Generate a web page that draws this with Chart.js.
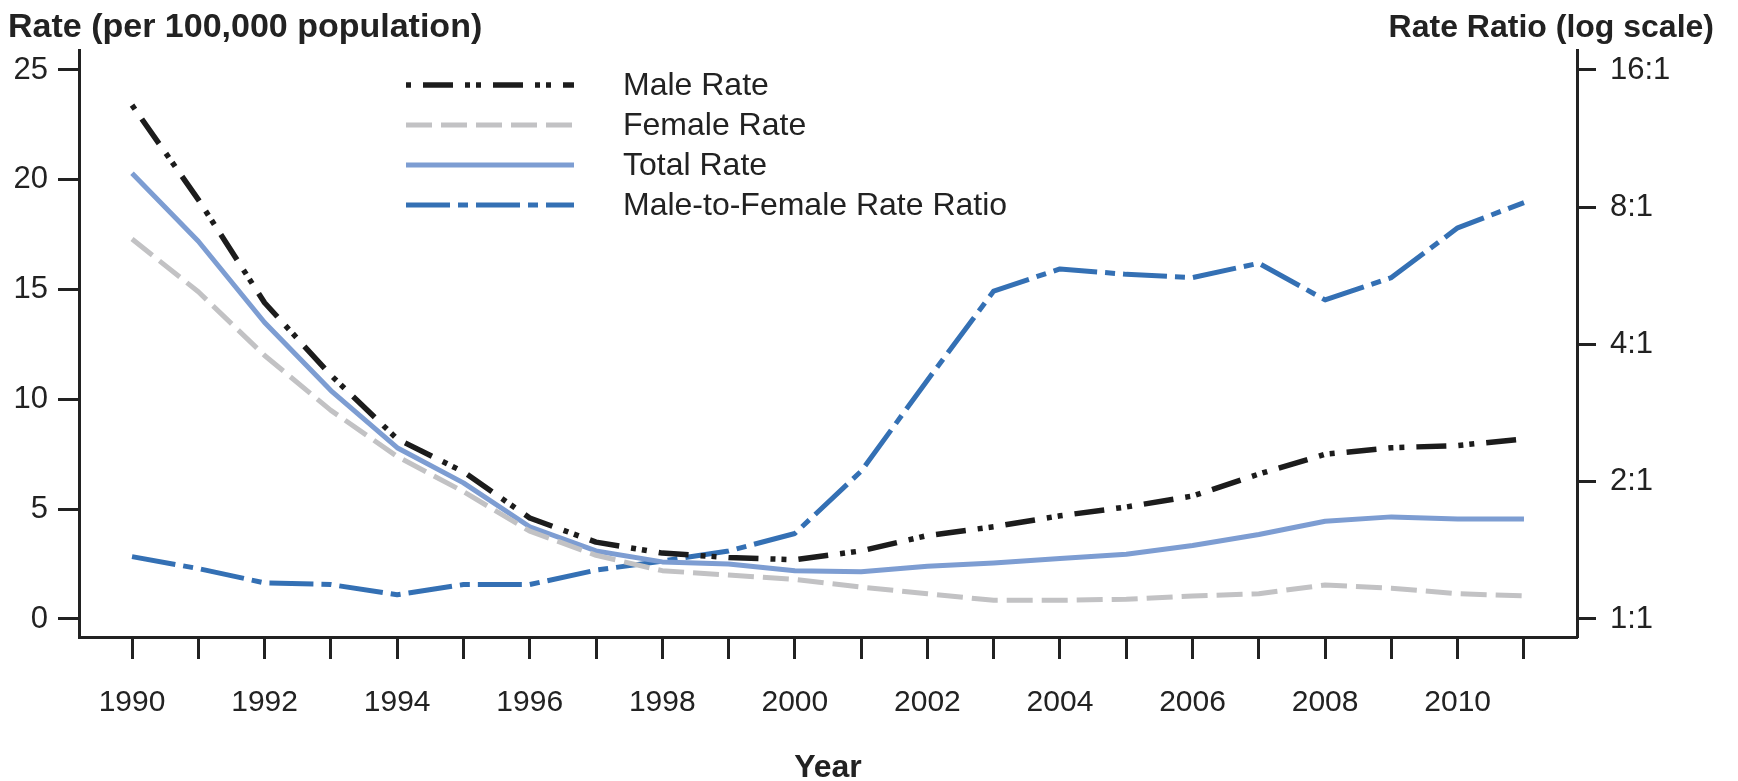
<!DOCTYPE html>
<html>
<head>
<meta charset="utf-8">
<title>Rate and Male-to-Female Rate Ratio by Year</title>
<script src="https://cdn.jsdelivr.net/npm/chart.js@4.4.1/dist/chart.umd.min.js"></script>
<style>
  html, body { margin: 0; padding: 0; background: #fff; }
  #wrap { width: 1738px; height: 781px; }
</style>
</head>
<body>
<div id="wrap"><canvas id="rateChart" width="1738" height="781"></canvas></div>
<script>
// Data
const years = [1990, 1991, 1992, 1993, 1994, 1995, 1996, 1997, 1998, 1999, 2000,
               2001, 2002, 2003, 2004, 2005, 2006, 2007, 2008, 2009, 2010, 2011];
const maleRate   = [23.4, 19.1, 14.4, 11.1, 8.2, 6.7, 4.6, 3.5, 3.0, 2.8, 2.7,
                    3.1, 3.8, 4.2, 4.7, 5.1, 5.6, 6.6, 7.5, 7.8, 7.9, 8.2];
const femaleRate = [17.3, 14.9, 12.0, 9.5, 7.4, 5.8, 4.0, 2.9, 2.2, 2.0, 1.8,
                    1.45, 1.15, 0.85, 0.85, 0.9, 1.05, 1.15, 1.55, 1.4, 1.15, 1.05];
const totalRate  = [20.3, 17.2, 13.5, 10.4, 7.8, 6.2, 4.2, 3.1, 2.6, 2.5, 2.2,
                    2.15, 2.4, 2.55, 2.75, 2.95, 3.35, 3.85, 4.45, 4.65, 4.55, 4.55];
const rateRatio  = [1.37, 1.29, 1.20, 1.19, 1.13, 1.19, 1.19, 1.28, 1.34, 1.41, 1.54,
                    2.11, 3.34, 5.24, 5.86, 5.70, 5.61, 6.03, 5.01, 5.61, 7.21, 8.19];
const rateTicks  = [0, 5, 10, 15, 20, 25];
const ratioTicks = [1, 2, 4, 8, 16];

const FONT = '"Liberation Sans", Arial, Helvetica, sans-serif';
const INK = '#222222';

Chart.defaults.font.family = FONT;
Chart.defaults.color = INK;

function toPoints(values) {
    return years.map((yr, i) => ({ x: yr, y: values[i] }));
}

// Titles and the legend are drawn by hand so they sit where the original has them
const chartText = {
    id: 'chartText',
    afterDraw(chart) {
        const ctx = chart.ctx;
        const area = chart.chartArea;
        ctx.save();
        ctx.fillStyle = INK;
        ctx.textBaseline = 'alphabetic';
        ctx.textAlign = 'left';
        ctx.font = 'bold 34px ' + FONT;
        ctx.fillText('Rate (per 100,000 population)', 8, 37);
        ctx.textAlign = 'right';
        ctx.font = 'bold 32px ' + FONT;
        ctx.fillText('Rate Ratio (log scale)', 1714, 37);
        ctx.textAlign = 'center';
        ctx.textBaseline = 'middle';
        ctx.fillText('Year', (area.left + area.right) / 2, 768);

        // legend
        ctx.font = '32px ' + FONT;
        ctx.textAlign = 'left';
        chart.data.datasets.forEach(function(ds, i) {
            const y = area.top + 35 + i * 40;
            ctx.strokeStyle = ds.borderColor;
            ctx.lineWidth = ds.borderWidth;
            ctx.setLineDash(ds.borderDash || []);
            ctx.beginPath();
            ctx.moveTo(area.left + 327, y);
            ctx.lineTo(area.left + 495, y);
            ctx.stroke();
            ctx.setLineDash([]);
            ctx.fillText(ds.label, area.left + 544, y + 1);
        });
        ctx.restore();
    }
};

const axisLine = { display: true, color: INK, width: 3 };
const tickGrid = { drawOnChartArea: false, drawTicks: true, tickColor: INK, tickWidth: 3 };

const ctx = document.getElementById('rateChart');
const rateChart = new Chart(ctx.getContext('2d'), {
    type: 'line',
    data: {
        datasets: [{
            label: 'Male Rate',
            data: toPoints(maleRate),
            yAxisID: 'y',
            borderColor: '#1c1c1c',
            borderWidth: 5.5,
            borderDash: [5, 12, 30, 12, 5, 6]
        }, {
            label: 'Female Rate',
            data: toPoints(femaleRate),
            yAxisID: 'y',
            borderColor: '#c2c2c4',
            borderWidth: 5,
            borderDash: [26, 9]
        }, {
            label: 'Total Rate',
            data: toPoints(totalRate),
            yAxisID: 'y',
            borderColor: '#7d9dd2',
            borderWidth: 5
        }, {
            label: 'Male-to-Female Rate Ratio',
            data: toPoints(rateRatio),
            yAxisID: 'y2',
            borderColor: '#3470b4',
            borderWidth: 5,
            borderDash: [44, 8, 10, 8]
        }]
    },
    options: {
        responsive: false,
        animation: false,
        devicePixelRatio: 1,
        layout: { padding: { top: 50, left: 0, right: 0, bottom: 0 } },
        elements: {
            point: { radius: 0 },
            line: { tension: 0, borderCapStyle: 'butt', borderJoinStyle: 'round' }
        },
        plugins: {
            legend: { display: false },
            tooltip: { enabled: false }
        },
        scales: {
            x: {
                type: 'linear',
                min: 1989.2,
                max: 2011.8,
                border: axisLine,
                grid: Object.assign({ tickLength: 22 }, tickGrid),
                ticks: {
                    autoSkip: false,
                    maxRotation: 0,
                    padding: 26,
                    font: { size: 30 },
                    color: INK,
                    callback: v => (v % 2 === 0 ? String(v) : '')
                },
                afterBuildTicks: scale => { scale.ticks = years.map(v => ({ value: v })); },
                afterFit: scale => { scale.height = 144; }
            },
            y: {
                type: 'linear',
                position: 'left',
                min: -0.82,
                max: 25.91,
                border: axisLine,
                grid: Object.assign({ tickLength: 21 }, tickGrid),
                ticks: { padding: 10, font: { size: 31 }, color: INK },
                afterBuildTicks: scale => { scale.ticks = rateTicks.map(v => ({ value: v })); },
                afterFit: scale => { scale.width = 79; }
            },
            y2: {
                type: 'logarithmic',
                position: 'right',
                min: 0.9131,
                max: 17.70,
                border: axisLine,
                grid: Object.assign({ tickLength: 19 }, tickGrid),
                ticks: {
                    padding: 14,
                    font: { size: 31 },
                    color: INK,
                    callback: v => v + ':1'
                },
                afterBuildTicks: scale => { scale.ticks = ratioTicks.map(v => ({ value: v })); },
                afterFit: scale => { scale.width = 161; }
            }
        }
    },
    plugins: [chartText]
});
console.log('Rate chart drawn', rateChart.chartArea);
</script>
</body>
</html>
